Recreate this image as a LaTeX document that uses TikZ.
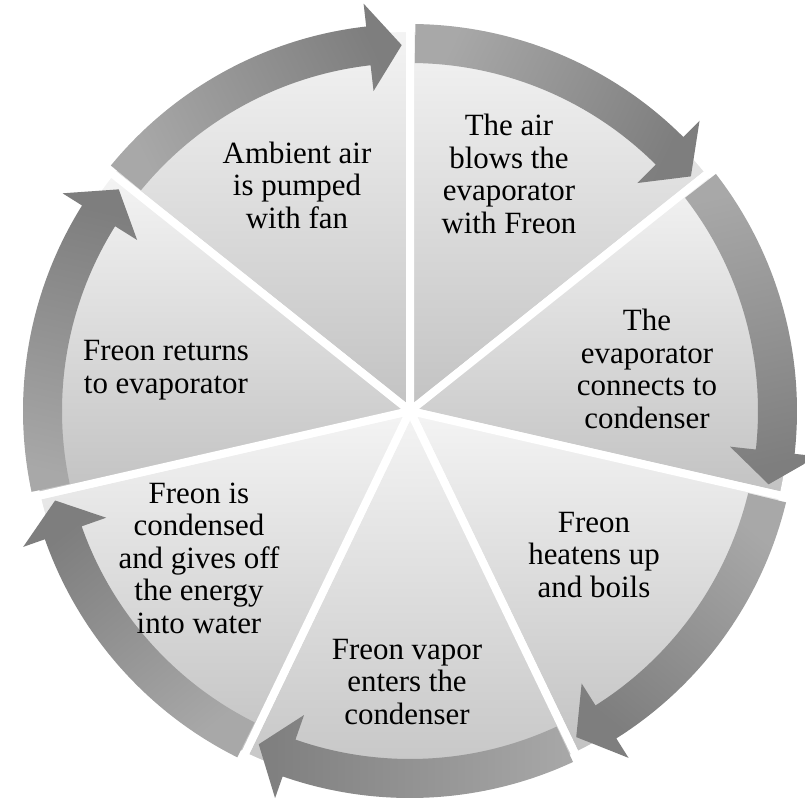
\documentclass[tikz,border=0pt]{standalone}
\usepackage{fontspec}
\setmainfont{Liberation Serif}
\newfontfamily\stepfont{Liberation Serif}
\usetikzlibrary{positioning}
\definecolor{SliceLight}{HTML}{F4F4F4}
\definecolor{SliceDark}{HTML}{C2C2C2}
\definecolor{ArrowLight}{HTML}{A8A8A8}
\definecolor{ArrowDark}{HTML}{7E7E7E}
\newcommand{\SliceR}{383}
\newcommand{\BandOut}{387}
\newcommand{\BandIn}{348}
\newcommand{\BandMid}{366}
\newcommand{\HeadOut}{410}
\newcommand{\HeadIn}{322}
\tikzset{
    slice/.style={
        draw=white,
        line width=6pt,
        line join=round,
        top color=SliceLight,
        bottom color=SliceDark
    },
    cyclearrow/.style={
        top color=ArrowLight,
        bottom color=ArrowDark,
        shading angle=#1
    },
    steptext/.style={
        font=\stepfont\fontsize{23.2}{24.4}\selectfont,
        align=center,
        text=black,
        inner sep=0pt
    }
}
% pie slice from angle #1 to angle #2
\newcommand{\cycleslice}[2]{%
    \path[slice] (0,0) -- (#1:\SliceR) arc[start angle=#1, end angle=#2, radius=\SliceR] -- cycle;
}
% curved band arrow, tail at angle #1, head at angle #2 (clockwise)
\newcommand{\cyclearrowpath}[2]{%
    \pgfmathsetmacro{\tailA}{#1-0.8}%
    \pgfmathsetmacro{\backA}{#2+6.5}%
    \pgfmathsetmacro{\tipA}{#2+1.3}%
    \pgfmathsetmacro{\midA}{(#1+#2)/2}%
    \path[cyclearrow=\midA] (\tailA:\BandOut)
        arc[start angle=\tailA, end angle=\backA, radius=\BandOut]
        -- (\backA:\HeadOut) -- (\tipA:\BandMid) -- (\backA:\HeadIn)
        -- (\backA:\BandIn)
        arc[start angle=\backA, end angle=\tailA, radius=\BandIn] -- cycle;
}
\begin{document}
\begin{tikzpicture}[x=0.75pt, y=0.75pt]
    \useasboundingbox (-410,-391) rectangle (395,411);

    % Slices
    \cycleslice{90}{141.429}
    \cycleslice{38.571}{90}
    \cycleslice{-12.857}{38.571}
    \cycleslice{-64.286}{-12.857}
    \cycleslice{-115.714}{-64.286}
    \cycleslice{-167.143}{-115.714}
    \cycleslice{-218.571}{-167.143}

    % Arrows round the rim
    \cyclearrowpath{141.429}{90}
    \cyclearrowpath{90}{38.571}
    \cyclearrowpath{38.571}{-12.857}
    \cyclearrowpath{-12.857}{-64.286}
    \cyclearrowpath{-64.286}{-115.714}
    \cyclearrowpath{-115.714}{-167.143}
    \cyclearrowpath{-167.143}{-218.571}

    % Steps
    \node[steptext] (ambient) at (-113,226) {Ambient air\\is pumped\\with fan};
    \node[steptext] (airblows) at (99,237) {The air\\blows the\\evaporator\\with Freon};
    \node[steptext] (connects) at (237,42) {The\\evaporator\\connects to\\condenser};
    \node[steptext] (heatens) at (184,-144) {Freon\\heatens up\\and boils};
    \node[steptext] (vapor) at (-3,-271) {Freon vapor\\enters the\\condenser};
    \node[steptext] (condensed) at (-211,-147) {Freon is\\condensed\\and gives off\\the energy\\into water};
    \node[steptext] (returns) at (-244,41) {Freon returns\\to evaporator};
\end{tikzpicture}
\end{document}
